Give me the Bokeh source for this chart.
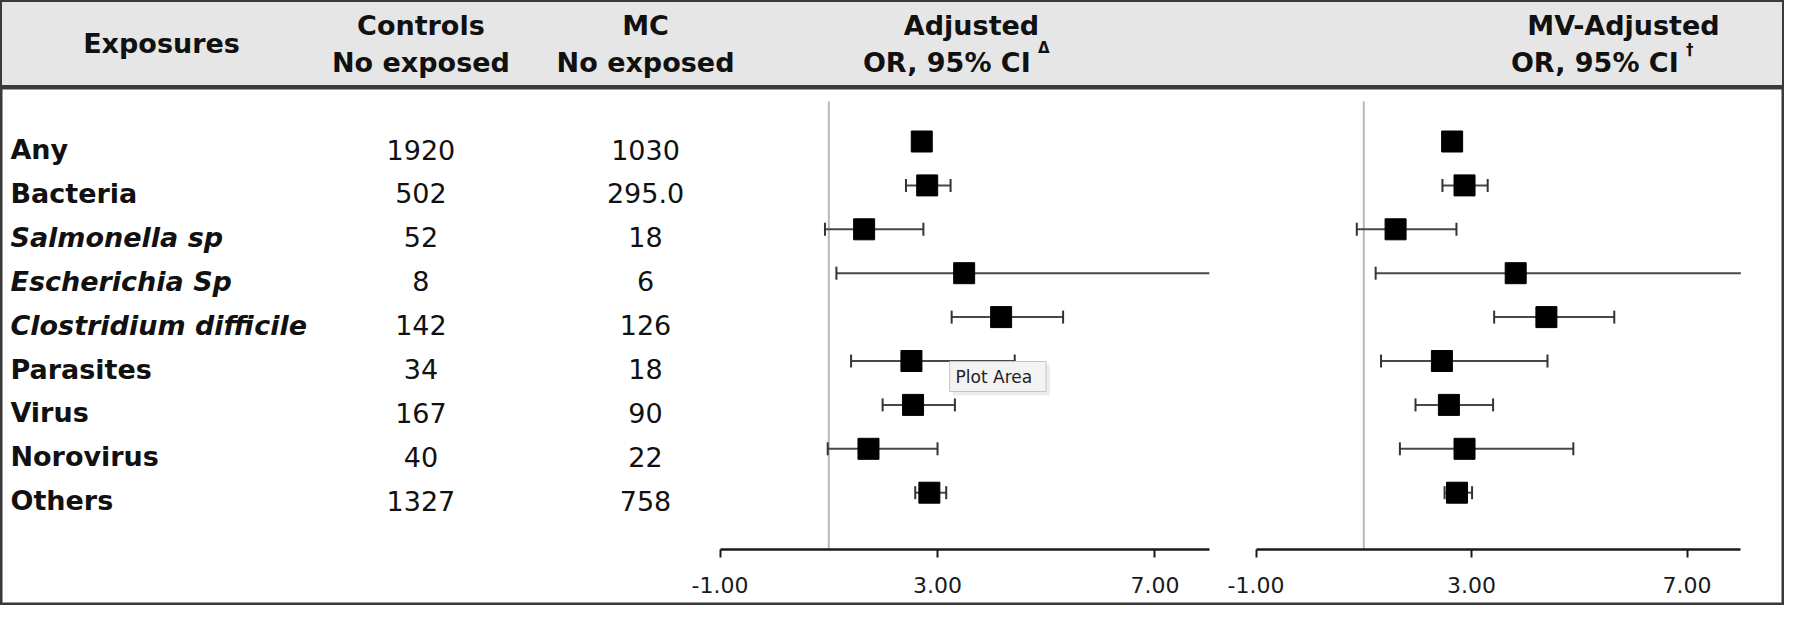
import math
from bokeh.plotting import figure
from bokeh.models import Range1d, LinearAxis, FixedTicker, NumeralTickFormatter, ColumnDataSource
from bokeh.layouts import column
from bokeh.embed import file_html
from bokeh.resources import INLINE
from bokeh.core.properties import value

# ---------------- data ----------------
exposures = ["Any", "Bacteria", "Salmonella sp", "Escherichia Sp", "Clostridium difficile",
             "Parasites", "Virus", "Norovirus", "Others"]
species_names = {"Salmonella sp", "Escherichia Sp", "Clostridium difficile"}
controls_exposed = ["1920", "502", "52", "8", "142", "34", "167", "40", "1327"]
mc_exposed = ["1030", "295.0", "18", "6", "126", "18", "90", "22", "758"]

adj_or = [2.71, 2.81, 1.65, 3.49, 4.17, 2.52, 2.55, 1.73, 2.85]
adj_lo = [2.60, 2.42, 0.93, 1.14, 3.26, 1.41, 1.99, 0.98, 2.59]
adj_hi = [2.82, 3.24, 2.74, 8.00, 5.31, 4.42, 3.32, 3.00, 3.16]

mv_or = [2.64, 2.87, 1.59, 3.82, 4.39, 2.45, 2.58, 2.87, 2.73]
mv_lo = [2.53, 2.46, 0.87, 1.22, 3.42, 1.32, 1.96, 1.67, 2.50]
mv_hi = [2.75, 3.30, 2.72, 8.00, 5.65, 4.41, 3.40, 4.89, 3.01]

null_or = 1.0
axis_ticks = [-1, 3, 7]
axis_min, axis_max = -1.0, 8.0

header_exposure = "Exposures"
header_top = ["Controls", "MC", "Adjusted", "MV-Adjusted"]
header_bottom = ["No exposed", "No exposed", "OR,  95% CI", "OR,  95% CI"]
header_sup = ["", "", "\u0394", "\u2020"]
tooltip_text = "Plot Area"

# ---------------- layout (reference pixel space) ----------------
W, H_HEAD, H_BODY = 1784, 87, 518
X0, X1 = 2, 1797
HEAD_Y0, HEAD_Y1 = 1, 96
BODY_Y0, BODY_Y1 = 96, 614
ROW0_Y, ROW_STEP = 150, 43.9
AXIS_Y = 558
REF_TOP = 110
PANELS = [("adj", 726.0, 54.7, adj_or, adj_lo, adj_hi),
          ("mv", 1265.3, 54.2, mv_or, mv_lo, mv_hi)]

FONT = value("DejaVu Sans")
TXT = "#111111"
FS = "27px"

# ---------------- header ----------------
head = figure(width=W, height=H_HEAD, x_range=Range1d(X0, X1), y_range=Range1d(HEAD_Y1, HEAD_Y0),
              x_axis_type=None, y_axis_type=None, toolbar_location=None, output_backend="svg",
              min_border=0)
head.background_fill_color = "#e6e6e6"
head.border_fill_color = "#e6e6e6"
head.outline_line_color = "#3a3a3a"
head.outline_line_width = 3

Y_TOP, Y_BOT = 28, 69
head.text(x=[164], y=[48], text=[header_exposure], text_font=FONT, text_font_size=FS,
          text_font_style="bold", text_align="center", text_baseline="middle", text_color=TXT)
top_x = [425, 651, 979, 1635]
head.text(x=top_x, y=[Y_TOP] * 4, text=header_top, text_font=FONT, text_font_size=FS,
          text_font_style="bold", text_align="center", text_baseline="middle", text_color=TXT)
head.text(x=top_x[:2], y=[Y_BOT] * 2, text=header_bottom[:2], text_font=FONT, text_font_size=FS,
          text_font_style="bold", text_align="center", text_baseline="middle", text_color=TXT)
or_end_x = [1048, 1700]
head.text(x=or_end_x, y=[Y_BOT] * 2, text=header_bottom[2:], text_font=FONT, text_font_size=FS,
          text_font_style="bold", text_align="right", text_baseline="middle", text_color=TXT)
head.text(x=[e - 2 for e in or_end_x], y=[Y_BOT - 16, Y_BOT - 14], text=header_sup[2:],
          text_font=FONT, text_font_size="15px", text_font_style="bold", text_align="left",
          text_baseline="middle", text_color=TXT)

# ---------------- body ----------------
rows = list(range(len(exposures)))
row_start = (BODY_Y1 - ROW0_Y) / ROW_STEP
row_end = (BODY_Y0 - ROW0_Y) / ROW_STEP

body = figure(width=W, height=H_BODY, x_range=Range1d(X0, X1), y_range=Range1d(BODY_Y1, BODY_Y0),
              x_axis_type=None, y_axis_type=None, toolbar_location=None, output_backend="svg",
              min_border=0)
body.background_fill_color = "white"
body.border_fill_color = "white"
body.outline_line_color = "#3a3a3a"
body.outline_line_width = 4
body.extra_y_ranges = {"rows": Range1d(row_start, row_end)}
for name, px_min, ppu, *_ in PANELS:
    start = axis_min - (px_min - X0) / ppu
    end = axis_min + (X1 - px_min) / ppu
    body.extra_x_ranges[name] = Range1d(start, end)

tab = ColumnDataSource(dict(row=rows, label=exposures, ctrl=controls_exposed, mc=mc_exposed))
plain_rows = [r for r in rows if exposures[r] not in species_names]
ital_rows = [r for r in rows if exposures[r] in species_names]
TEXT_DY = 8
body.text(x=12, y=plain_rows, text=[exposures[r] for r in plain_rows], y_range_name="rows",
          y_offset=TEXT_DY, text_font=FONT, text_font_size=FS, text_font_style="bold",
          text_align="left", text_baseline="middle", text_color=TXT)
body.text(x=12, y=ital_rows, text=[exposures[r] for r in ital_rows], y_range_name="rows",
          y_offset=TEXT_DY, text_font=FONT, text_font_size=FS, text_font_style="bold italic",
          text_align="left", text_baseline="middle", text_color=TXT)
body.text(x=425, y="row", text="ctrl", source=tab, y_range_name="rows", y_offset=TEXT_DY,
          text_font=FONT, text_font_size=FS, text_align="center", text_baseline="middle",
          text_color=TXT)
body.text(x=651, y="row", text="mc", source=tab, y_range_name="rows", y_offset=TEXT_DY,
          text_font=FONT, text_font_size=FS, text_align="center", text_baseline="middle",
          text_color=TXT)

for name, px_min, ppu, orv, lo, hi in PANELS:
    # null line
    body.segment(x0=[null_or], y0=[REF_TOP], x1=[null_or], y1=[AXIS_Y], x_range_name=name,
                 line_color="#b8b8b8", line_width=2)
    src = ColumnDataSource(dict(row=rows, orv=orv, lo=lo, hi=[min(h, axis_max) for h in hi]))
    body.segment(x0="lo", y0="row", x1="hi", y1="row", source=src, x_range_name=name,
                 y_range_name="rows", line_color="#484848", line_width=2)
    cap_x = list(lo) + [h for h in hi if h < axis_max]
    cap_y = list(rows) + [r for r, h in zip(rows, hi) if h < axis_max]
    body.scatter(x=cap_x, y=cap_y, marker="dash", angle=math.pi / 2, size=13, line_width=2,
                 line_color="#333333", x_range_name=name, y_range_name="rows")
    body.scatter(x="orv", y="row", source=src, marker="square", size=21, fill_color="black",
                 line_color="black", x_range_name=name, y_range_name="rows")
    ax = LinearAxis(x_range_name=name, fixed_location=AXIS_Y, bounds=(axis_min, axis_max),
                    ticker=FixedTicker(ticks=axis_ticks),
                    formatter=NumeralTickFormatter(format="0.00"))
    ax.axis_line_color = "#1a1a1a"
    ax.axis_line_width = 2.5
    ax.major_tick_line_color = "#1a1a1a"
    ax.major_tick_line_width = 2
    ax.major_tick_out = 8
    ax.major_tick_in = 0
    ax.minor_tick_out = 0
    ax.minor_tick_in = 0
    ax.major_label_text_font = "DejaVu Sans"
    ax.major_label_text_font_size = "22px"
    ax.major_label_text_color = "#1a1a1a"
    ax.major_label_standoff = 19
    body.add_layout(ax, "below")

# tooltip artefact from the source screenshot
body.quad(left=[960], right=[1058], top=[373], bottom=[404], fill_color="black", fill_alpha=0.07,
          line_color=None)
body.quad(left=[957], right=[1054], top=[370], bottom=[400], fill_color="#f3f3f3",
          line_color="#c4c4c4", line_width=1)
body.text(x=[963], y=[385.5], text=[tooltip_text], text_font=FONT, text_font_size="17px",
          text_align="left", text_baseline="middle", text_color="#222222")

layout = column(head, body, spacing=0)
open("out.html", "w").write(file_html(layout, INLINE))
